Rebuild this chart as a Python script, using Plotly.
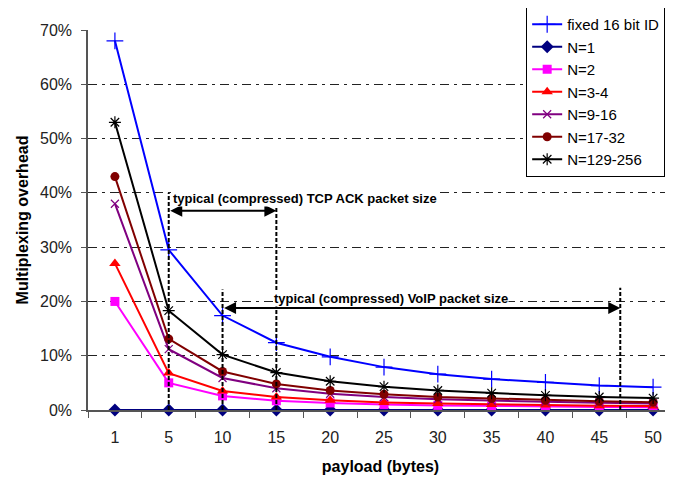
import plotly.graph_objects as go

payload = ["1", "5", "10", "15", "20", "25", "30", "35", "40", "45", "50"]

fixed16 = [0.680, 0.295, 0.174, 0.124, 0.098, 0.079, 0.066, 0.057, 0.051, 0.045, 0.042]
n1 = [0.0] * 11
n2 = [0.200, 0.050, 0.026, 0.017, 0.013, 0.010, 0.0085, 0.0073, 0.0064, 0.0057, 0.0051]
n3_4 = [0.270, 0.068, 0.035, 0.024, 0.018, 0.014, 0.012, 0.010, 0.009, 0.008, 0.0072]
n9_16 = [0.380, 0.112, 0.059, 0.040, 0.030, 0.024, 0.020, 0.017, 0.015, 0.0135, 0.012]
n17_32 = [0.430, 0.131, 0.071, 0.048, 0.036, 0.029, 0.024, 0.021, 0.018, 0.016, 0.0145]
n129_256 = [0.530, 0.183, 0.102, 0.069, 0.053, 0.043, 0.036, 0.031, 0.027, 0.024, 0.022]

series = [
    ("fixed 16 bit ID", fixed16, "#0000FF", "cross-thin", 12),
    ("N=1", n1, "#000080", "diamond", 10),
    ("N=2", n2, "#FF00FF", "square", 9),
    ("N=3-4", n3_4, "#FF0000", "triangle-up", 10),
    ("N=9-16", n9_16, "#800080", "x-thin", 8),
    ("N=17-32", n17_32, "#800000", "circle", 9),
    ("N=129-256", n129_256, "#000000", "asterisk", 10),
]

# annotation geometry (category index / fraction)
tcp_range = [1, 3]
tcp_top = 0.40
tcp_arrow_y = 0.367
voip_range = [2, 9.39]
voip_top = [0.222, 0.225]
voip_arrow_y = 0.188

font = "Arial, Liberation Sans, sans-serif"

fig = go.Figure()
for i, (name, vals, color, sym, size) in enumerate(series):
    thin = sym in ("cross-thin", "x-thin", "asterisk")
    fig.add_trace(go.Scatter(
        x=payload, y=vals, name=name, mode="lines+markers",
        legendgroup=str(i), cliponaxis=False,
        line=dict(color=color, width=2),
        marker=dict(symbol=sym, size=size, color=color,
                    line=dict(color=color, width=1.2 if thin else 0)),
    ))

dash_line = dict(color="black", width=2, dash="4px,2px")
shapes = [
    dict(type="line", xref="x", yref="y", x0=tcp_range[0], x1=tcp_range[0], y0=0, y1=tcp_top, line=dash_line),
    dict(type="line", xref="x", yref="y", x0=tcp_range[1], x1=tcp_range[1], y0=0, y1=tcp_top, line=dash_line),
    dict(type="line", xref="x", yref="y", x0=voip_range[0], x1=voip_range[0], y0=0, y1=voip_top[0], line=dash_line),
    dict(type="line", xref="x", yref="y", x0=voip_range[1], x1=voip_range[1], y0=0, y1=voip_top[1], line=dash_line),
]

annotations = [
    dict(x=tcp_range[1], y=tcp_arrow_y, ax=tcp_range[0], ay=tcp_arrow_y, xref="x", yref="y",
         axref="x", ayref="y", text="", showarrow=True, arrowhead=2, arrowside="end+start",
         arrowsize=1.2, arrowwidth=2, arrowcolor="black", standoff=0, startstandoff=0),
    dict(x=voip_range[1], y=voip_arrow_y, ax=voip_range[0], ay=voip_arrow_y, xref="x", yref="y",
         axref="x", ayref="y", text="", showarrow=True, arrowhead=2, arrowside="end+start",
         arrowsize=1.2, arrowwidth=2, arrowcolor="black", standoff=0, startstandoff=0),
    dict(x=tcp_range[0], y=0.389, xref="x", yref="y", xanchor="left", yanchor="middle",
         xshift=3, text="<b>typical (compressed) TCP ACK packet size</b>", showarrow=False,
         font=dict(family=font, size=13, color="black"), bgcolor="white", borderpad=0),
    dict(x=2.93, y=0.205, xref="x", yref="y", xanchor="left", yanchor="middle",
         text="<b>typical (compressed) VoIP packet size</b>", showarrow=False,
         font=dict(family=font, size=13, color="black"), bgcolor="white", borderpad=0),
]

# page body adds an 8px offset, so the figure is sized to the visible area
fig.update_layout(
    width=665, height=469,
    margin=dict(l=80, r=0, t=22, b=67, autoexpand=False),
    paper_bgcolor="white", plot_bgcolor="white",
    font=dict(family=font, size=16, color="#222"),
    showlegend=True,
    legend=dict(x=0.749, y=1.0605, xanchor="left", yanchor="top",
                bgcolor="white", bordercolor="black", borderwidth=1,
                font=dict(family=font, size=15, color="black"),
                tracegroupgap=4, itemwidth=30, traceorder="normal"),
    shapes=shapes,
    annotations=annotations,
)

fig.update_xaxes(
    type="category", range=[-0.5, 10.37], automargin=False,
    showline=True, linecolor="#555", linewidth=1.5,
    ticks="outside", tickson="boundaries", ticklen=6, tickcolor="#555",
    ticklabelstandoff=12, showgrid=False, zeroline=False,
    tickfont=dict(size=16, color="#222"),
    title=dict(text="<b>payload (bytes)</b>", standoff=16,
               font=dict(family=font, size=16, color="black")),
)
fig.update_yaxes(
    range=[0, 0.70], tickvals=[0, 0.1, 0.2, 0.3, 0.4, 0.5, 0.6, 0.7], automargin=False,
    tickformat=".0%", showline=True, linecolor="#555", linewidth=1.5,
    ticks="outside", ticklen=5, tickcolor="#555", ticklabelstandoff=6,
    tickfont=dict(size=16, color="#222"),
    showgrid=True, gridcolor="#222", griddash="9px,5px,3px,5px", gridwidth=1,
    zeroline=False,
    title=dict(text="<b>Multiplexing overhead</b>", standoff=7,
               font=dict(family=font, size=16, color="black")),
)

fig.write_html("out.html")
